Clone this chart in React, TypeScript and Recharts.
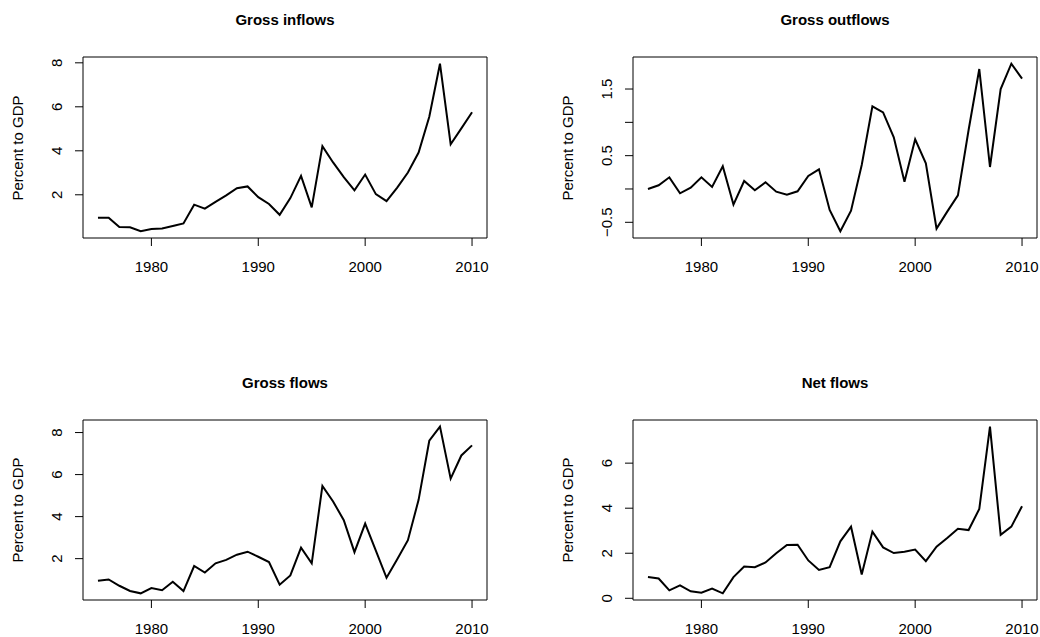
import { LineChart, Line, XAxis, YAxis, ReferenceArea } from "recharts";

// 1975..2010, one value per year, percent of GDP
const years = [
  1975, 1976, 1977, 1978, 1979, 1980, 1981, 1982, 1983, 1984, 1985, 1986,
  1987, 1988, 1989, 1990, 1991, 1992, 1993, 1994, 1995, 1996, 1997, 1998,
  1999, 2000, 2001, 2002, 2003, 2004, 2005, 2006, 2007, 2008, 2009, 2010,
];

const grossInflows = [
  0.96, 0.96, 0.53, 0.52, 0.34, 0.44, 0.47, 0.58, 0.7, 1.55, 1.37, 1.68,
  1.97, 2.3, 2.38, 1.89, 1.58, 1.09, 1.85, 2.86, 1.43, 4.21, 3.47, 2.8,
  2.2, 2.92, 2.03, 1.71, 2.33, 3.01, 3.92, 5.55, 7.96, 4.3, 5.02, 5.75,
];

const grossOutflows = [
  0.0, 0.055, 0.175, -0.065, 0.02, 0.175, 0.03, 0.34, -0.235, 0.12, -0.02, 0.1,
  -0.04, -0.085, -0.035, 0.195, 0.295, -0.315, -0.635, -0.325, 0.36, 1.24, 1.15, 0.775,
  0.11, 0.745, 0.385, -0.595, -0.34, -0.095, 0.885, 1.8, 0.33, 1.5, 1.88, 1.655,
];

const grossFlows = [
  0.945, 1.01, 0.71, 0.46, 0.35, 0.6, 0.5, 0.9, 0.46, 1.65, 1.34, 1.78,
  1.94, 2.19, 2.33, 2.09, 1.84, 0.76, 1.2, 2.52, 1.78, 5.46, 4.72, 3.83,
  2.31, 3.67, 2.38, 1.09, 1.97, 2.88, 4.8, 7.61, 8.28, 5.81, 6.91, 7.39,
];

const netFlows = [
  0.94, 0.88, 0.35, 0.57, 0.31, 0.25, 0.43, 0.22, 0.94, 1.41, 1.38, 1.59,
  2.0, 2.37, 2.38, 1.68, 1.26, 1.38, 2.53, 3.18, 1.06, 2.96, 2.26, 2.01,
  2.07, 2.16, 1.65, 2.29, 2.68, 3.09, 3.03, 3.97, 7.62, 2.82, 3.18, 4.09,
];

const xTicks = [1980, 1990, 2000, 2010];

const FONT = '"Liberation Sans", Arial, Helvetica, sans-serif';
const BOX_W = 404;
const CHART_W = 520;
const CHART_H = 319;
const Y_AXIS_W = 40;
const X_AXIS_H = 30;

interface Panel {
  title: string;
  values: number[];
  yTicks: number[];
  yLabels: number[];
  left: number;
  top: number;
  boxLeft: number;
  boxTop: number;
  boxH: number;
}

const panels: Panel[] = [
  { title: "Gross inflows", values: grossInflows, yTicks: [2, 4, 6, 8], yLabels: [2, 4, 6, 8], left: 0, top: 0, boxLeft: 83, boxTop: 57, boxH: 181 },
  { title: "Gross outflows", values: grossOutflows, yTicks: [-0.5, 0, 0.5, 1, 1.5], yLabels: [-0.5, 0.5, 1.5], left: 520, top: 0, boxLeft: 113, boxTop: 57, boxH: 181 },
  { title: "Gross flows", values: grossFlows, yTicks: [2, 4, 6, 8], yLabels: [2, 4, 6, 8], left: 0, top: 318, boxLeft: 83, boxTop: 102, boxH: 180 },
  { title: "Net flows", values: netFlows, yTicks: [0, 2, 4, 6], yLabels: [0, 2, 4, 6], left: 520, top: 318, boxLeft: 113, boxTop: 102, boxH: 180 },
];

// R pads both ends of the data range by 4%
function padRange(lo: number, hi: number): [number, number] {
  const d = (hi - lo) * 0.04;
  return [lo - d, hi + d];
}

const xDomain = padRange(years[0], years[years.length - 1]);

function XTick({ x, y, payload }: any) {
  return (
    <text x={x} y={y + 19} dy="0.35em" textAnchor="middle" fontSize={15} fontFamily={FONT} fill="#000">
      {payload.value}
    </text>
  );
}

function makeYTick(labels: number[]) {
  return function YTick({ x, y, payload }: any) {
    if (!labels.includes(payload.value)) return <g />;
    const cx = x - 16;
    return (
      <text
        x={cx}
        y={y}
        dy="0.35em"
        textAnchor="middle"
        fontSize={15}
        fontFamily={FONT}
        fill="#000"
        transform={`rotate(-90, ${cx}, ${y})`}
      >
        {String(payload.value).replace("-", "\u2212")}
      </text>
    );
  };
}

function FlowPanel({ p }: { p: Panel }) {
  const data = years.map((year, i) => ({ year, value: p.values[i] }));
  const yDomain = padRange(Math.min(...p.values), Math.max(...p.values));
  const margin = {
    top: p.boxTop,
    left: p.boxLeft - Y_AXIS_W,
    right: CHART_W - p.boxLeft - BOX_W,
    bottom: CHART_H - p.boxTop - p.boxH - X_AXIS_H,
  };
  return (
    <>
      <div
        style={{
          position: "absolute",
          left: p.left + p.boxLeft,
          top: p.top + p.boxTop - 46,
          width: BOX_W,
          height: 18,
          lineHeight: "18px",
          textAlign: "center",
          fontFamily: FONT,
          fontWeight: "bold",
          fontSize: 15,
        }}
      >
        {p.title}
      </div>
      <div
        style={{
          position: "absolute",
          left: p.left + p.boxLeft - 65 - 100,
          top: p.top + p.boxTop + p.boxH / 2 - 9,
          width: 200,
          height: 18,
          lineHeight: "18px",
          textAlign: "center",
          fontFamily: FONT,
          fontSize: 15,
          transform: "rotate(-90deg)",
        }}
      >
        Percent to GDP
      </div>
      <div style={{ position: "absolute", left: p.left, top: p.top }}>
        <LineChart width={CHART_W} height={CHART_H} data={data} margin={margin}>
          <XAxis
            dataKey="year"
            type="number"
            domain={xDomain}
            allowDataOverflow
            ticks={xTicks}
            height={X_AXIS_H}
            axisLine={false}
            tickSize={8}
            tickLine={{ stroke: "#000" }}
            tick={<XTick />}
          />
          <YAxis
            type="number"
            domain={yDomain}
            allowDataOverflow
            ticks={p.yTicks}
            width={Y_AXIS_W}
            axisLine={false}
            tickSize={8}
            tickLine={{ stroke: "#000" }}
            tick={makeYTick(p.yLabels)}
          />
          <ReferenceArea
            x1={xDomain[0]}
            x2={xDomain[1]}
            y1={yDomain[0]}
            y2={yDomain[1]}
            fill="none"
            fillOpacity={0}
            stroke="#000"
            strokeWidth={1}
            strokeOpacity={1}
          />
          <Line
            type="linear"
            dataKey="value"
            stroke="#000"
            strokeWidth={2}
            dot={false}
            isAnimationActive={false}
          />
        </LineChart>
      </div>
    </>
  );
}

export default function App() {
  return (
    <div
      style={{
        position: "absolute",
        left: 0,
        top: 0,
        width: 1040,
        height: 637,
        background: "#fff",
        overflow: "hidden",
      }}
    >
      {panels.map((p) => (
        <FlowPanel key={p.title} p={p} />
      ))}
    </div>
  );
}
